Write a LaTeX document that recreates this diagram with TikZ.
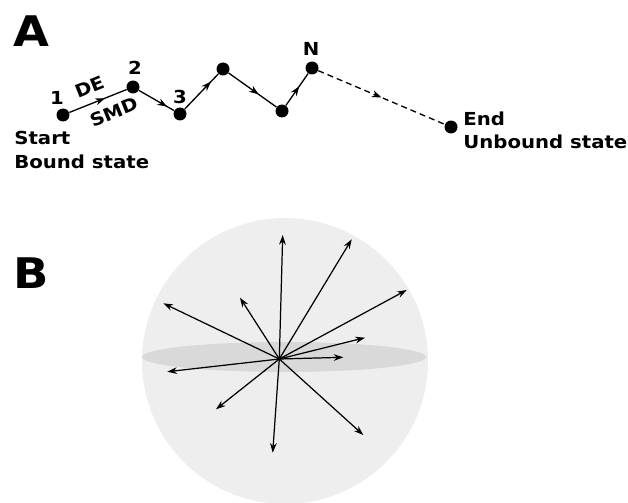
\documentclass[tikz,border=0pt]{standalone}
\usepackage{fontspec}
\setmainfont{DejaVu Sans}[FakeStretch=1.1]
\usetikzlibrary{arrows.meta,decorations.markings}
\definecolor{SphereGray}{HTML}{EEEEEE}
\definecolor{DiscGray}{HTML}{D9D9D9}

\begin{document}
\begin{tikzpicture}[x=0.02cm,y=-0.02cm,
  state/.style={circle,fill=black,inner sep=0pt,minimum size=0.26cm},
  lbl/.style={font=\fontsize{10.2}{12}\selectfont\bfseries,inner sep=0pt},
  panel/.style={font=\fontsize{24}{28}\selectfont\bfseries,inner sep=0pt},
  hop/.style={line width=0.75pt,postaction={decorate},
              decoration={markings,mark=at position #1 with {\arrow{Stealth[length=5.5pt,width=4pt]}}}},
  vec/.style={-{Stealth[length=5.5pt,width=3.8pt]},line width=0.7pt}
]
  \useasboundingbox (0,0) rectangle (628,503);

  % Panel A: pathway
  \node[panel,anchor=base west] (pa) at (13,47) {A};
  \node[state] (p1) at (63,115) {};
  \node[state] (p2) at (133,87) {};
  \node[state] (p3) at (180,114) {};
  \node[state] (p4) at (223,69) {};
  \node[state] (p5) at (282,111) {};
  \node[state] (pn) at (312,68) {};
  \node[state] (pe) at (451,127) {};

  \node[lbl] (l1) at (57,98) {1};
  \node[lbl] (l2) at (135,68) {2};
  \node[lbl] (l3) at (180,97) {3};
  \node[lbl] (ln) at (311,49) {N};

  \node[lbl,anchor=base west] (st) at (14,145) {Start};
  \node[lbl,anchor=base west] (bs) at (14,169) {Bound state};
  \node[lbl,anchor=base west] (en) at (463,126) {End};
  \node[lbl,anchor=base west] (us) at (463,149) {Unbound state};

  % Arrows
  \draw[hop=0.62] (p1) -- (p2)
    node[lbl,pos=0.46,above=5pt,sloped] (de) {DE}
    node[lbl,pos=0.68,below=5pt,sloped] (smd) {SMD};
  \draw[hop=0.8]  (p2) -- (p3);
  \draw[hop=0.78] (p3) -- (p4);
  \draw[hop=0.63] (p4) -- (p5);
  \draw[hop=0.6]  (p5) -- (pn);
  \draw[hop=0.5,dash pattern=on 3.4pt off 2.3pt] (pn) -- (pe);

  % Panel B: sphere of random directions
  \node[panel,anchor=base west] (pb) at (13,288) {B};
  \fill[SphereGray] (285,361) circle[radius=143];
  \fill[DiscGray] (284,357) ellipse[x radius=142,y radius=15];
  \coordinate (o) at (279.3,359);
  \foreach \x/\y [count=\i] in {282.7/235, 351.7/239.3, 406.7/290, 365/337.7,
      343.3/357.3, 363.3/435, 272.7/452.7, 216/409.3, 167.3/371.7,
      163.3/303.3, 240/297.7}{
    \coordinate (v\i) at (\x,\y);
    \draw[vec] (o) -- (v\i);
  }
\end{tikzpicture}
\end{document}
